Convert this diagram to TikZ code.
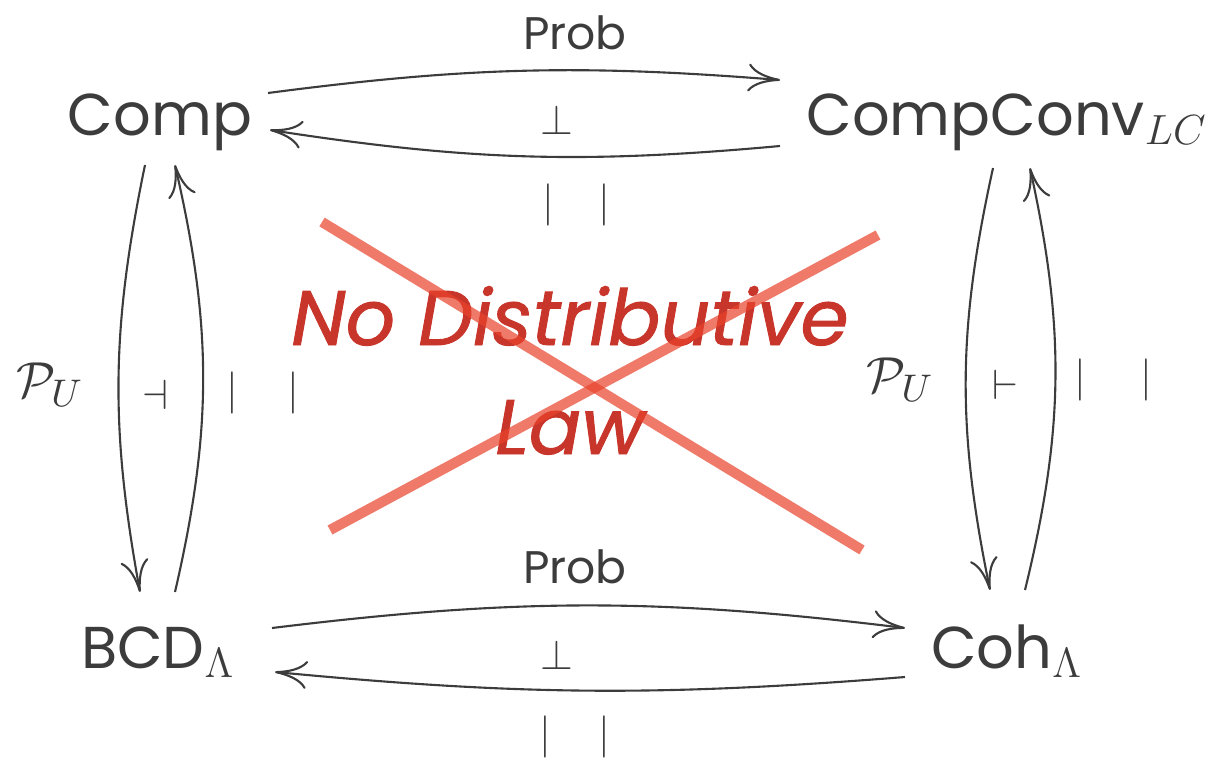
\documentclass[tikz,border=0pt]{standalone}
\usepackage{fontspec}
\setmainfont{Poppins}
\usepackage{tikz}
\usetikzlibrary{arrows.meta}
\definecolor{DiagInk}{HTML}{3C3C3C}
\definecolor{LawRed}{HTML}{C8352B}
\definecolor{CrossRed}{HTML}{E8422A}

\begin{document}
\begin{tikzpicture}[
 obj/.style={inner sep=0pt,anchor=base,text=DiagInk,font=\fontsize{16.8}{20}\selectfont},
 lbl/.style={inner sep=0pt,text=DiagInk,font=\fontsize{13}{14}\selectfont},
 sym/.style={inner sep=0pt,text=DiagInk,font=\fontsize{12}{13}\selectfont},
 side/.style={inner sep=0pt,text=DiagInk,font=\fontsize{15}{16}\selectfont},
 bars/.style={inner sep=0pt,text=DiagInk,font=\fontsize{13}{14}\selectfont},
 adj/.style={-{To[length=3.2mm,width=2.8mm]},line width=0.6pt,draw=DiagInk},
 cross/.style={line width=2.9pt,draw=CrossRed,opacity=.7},
 law/.style={text=LawRed,anchor=base,inner sep=0pt,font=\fontsize{22}{26}\selectfont\itshape\addfontfeature{FakeBold=1.2}}
]
\useasboundingbox (0,0) rectangle (12.16,7.61);
% the four categories
\node[obj] (comp) at (1.60,6.26) {Comp};
\node[obj] (cconv) at (10.07,6.26) {CompConv$_{LC}$};
\node[obj] (bcd) at (1.58,0.93) {BCD$_\Lambda$};
\node[obj] (coh) at (10.07,0.93) {Coh$_\Lambda$};
% horizontal adjunctions
\draw[adj] ([shift={(1.08,0.42)}]comp.base) to[bend left=6] ([shift={(-2.27,0.55)}]cconv.base);
\draw[adj] ([shift={(-2.27,-0.11)}]cconv.base) to[bend left=7] ([shift={(1.10,0.05)}]comp.base);
\draw[adj] ([shift={(1.14,0.40)}]bcd.base) to[bend left=7] ([shift={(-1.02,0.40)}]coh.base);
\draw[adj] ([shift={(-1.02,-0.09)}]coh.base) to[bend left=5] ([shift={(1.17,-0.04)}]bcd.base);
% vertical adjunctions
\draw[adj] ([shift={(-0.15,-0.30)}]comp.base) to[bend right=11] ([shift={(-0.18,0.76)}]bcd.base);
\draw[adj] ([shift={(0.17,0.76)}]bcd.base) to[bend right=13] ([shift={(0.15,-0.30)}]comp.base);
\draw[adj] ([shift={(-0.14,-0.33)}]cconv.base) to[bend right=12] ([shift={(-0.17,0.78)}]coh.base);
\draw[adj] ([shift={(0.18,0.78)}]coh.base) to[bend right=13] ([shift={(0.23,-0.33)}]cconv.base);
% labels
\node[lbl] (probtop) at (5.75,7.28) {Prob};
\node[sym] (perptop) at (5.57,6.41) {$\perp$};
\node[bars] (barstop) at (5.765,5.56) {$|$\hspace{4.4mm}$|$};
\node[lbl] (probbot) at (5.75,1.94) {Prob};
\node[sym] (perpbot) at (5.57,1.06) {$\perp$};
\node[bars] (barsbot) at (5.75,0.24) {$|$\hspace{4.7mm}$|$};
\node[side] (puleft) at (0.50,3.76) {$\mathcal{P}_U$};
\node[sym] (dashleft) at (1.55,3.66) {$\dashv$};
\node[bars] (barsleft) at (2.63,3.68) {$|$\hspace{5.0mm}$|$};
\node[side] (puright) at (9.00,3.81) {$\mathcal{P}_U$};
\node[sym] (dashright) at (10.05,3.76) {$\vdash$};
\node[bars] (barsright) at (11.135,3.81) {$|$\hspace{5.4mm}$|$};
% crossed-out law
\node[law] (nolaw) at (5.70,4.16) {No Distributive};
\node[law] (lawline) at (5.70,3.07) {Law};
\draw[cross] (3.22,5.39) -- (8.62,2.11);
\draw[cross] (3.30,2.31) -- (8.78,5.26);
\end{tikzpicture}
\end{document}
